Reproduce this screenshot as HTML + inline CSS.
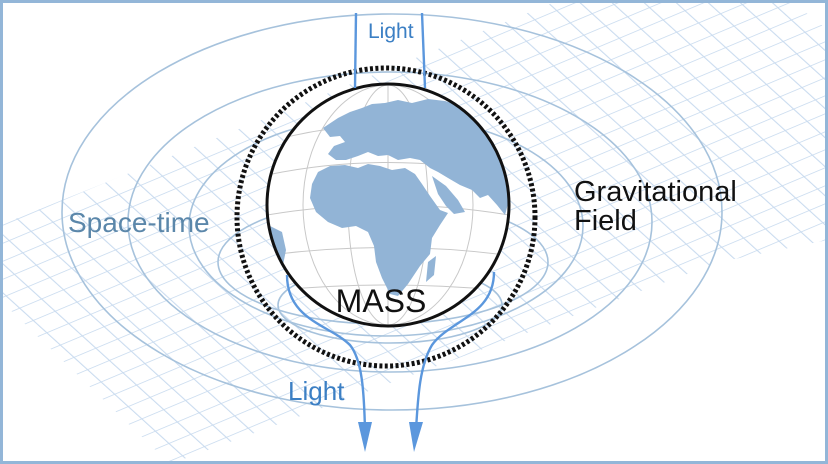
<!DOCTYPE html>
<html><head><style>
html,body{margin:0;padding:0;background:#fff;width:828px;height:464px;overflow:hidden}
svg{display:block;overflow:hidden}
text{font-family:"Liberation Sans",sans-serif}
</style></head><body>
<svg width="828" height="464" viewBox="0 0 828 464" xmlns="http://www.w3.org/2000/svg">
<defs>
<clipPath id="g"><polygon points="0,225 560,0 790,0 828,30 828,240 720,262 170,464 0,300"/></clipPath>
<clipPath id="gl"><circle cx="388" cy="205" r="121"/></clipPath>
<pattern id="grid" patternUnits="userSpaceOnUse" width="100" height="100" patternTransform="matrix(0.219 -0.092 0.1357 0.123 0 262)">
<path d="M0,0 H100 M0,0 V100" stroke="#c9dbef" stroke-width="10" fill="none"/>
</pattern>
</defs>
<rect width="828" height="464" fill="#fff"/>
<rect x="0" y="0" width="828" height="464" fill="url(#grid)" clip-path="url(#g)"/>
<g fill="none" stroke="#a6c2dc" stroke-width="1.6">
<ellipse cx="392" cy="212" rx="330" ry="198"/>
<ellipse cx="390" cy="222" rx="262" ry="150"/>
<ellipse cx="386" cy="226" rx="197" ry="110"/>
<ellipse cx="383" cy="262" rx="165" ry="62"/>
<ellipse cx="390" cy="305" rx="112" ry="38"/>
</g>
<circle cx="386" cy="217" r="149" fill="none" stroke="#111" stroke-width="5" stroke-dasharray="3 2.4"/>
<circle cx="388" cy="205" r="121" fill="#fff"/>
<g clip-path="url(#gl)">
<g fill="none" stroke="#c8c8c8" stroke-width="1">
<ellipse cx="388" cy="205" rx="40" ry="120"/><ellipse cx="388" cy="205" rx="85" ry="120"/>
<line x1="388" y1="85" x2="388" y2="325"/>
<path d="M267,175 Q388,150 509,175"/><path d="M267,215 Q388,195 509,215"/><path d="M270,255 Q388,240 506,255"/><path d="M280,290 Q388,280 496,290"/><path d="M275,140 Q388,110 500,140"/>
</g>
<path fill="#92b4d6" d="M323,128 L338,118 L350,112 L362,108 L372,104 L385,103 L398,100 L412,103 L428,99 L445,101 L462,106 L480,114 L496,126 L506,142 L509,170 L509,200 L505,215 L497,205 L488,195 L480,198 L472,190 L460,185 L448,178 L438,172 L430,168 L420,160 L410,158 L398,160 L388,155 L378,156 L368,152 L358,156 L346,160 L336,160 L328,154 L334,146 L345,142 L340,136 L330,137 Z"/>
<path fill="#92b4d6" d="M318,172 L330,166 L345,165 L358,168 L368,164 L380,166 L392,170 L405,168 L415,174 L422,184 L430,196 L440,210 L448,213 L440,225 L432,238 L430,254 L420,266 L408,284 L398,296 L390,294 L382,278 L376,262 L374,246 L368,232 L356,226 L342,228 L328,222 L316,212 L310,198 L312,184 Z"/>
<path fill="#92b4d6" d="M432,176 L446,186 L458,200 L465,212 L454,214 L446,206 L438,194 Z"/>
<path fill="#92b4d6" d="M268,225 L282,232 L286,250 L280,280 L270,288 Z"/>
<path fill="#92b4d6" d="M428,262 L436,256 L434,275 L426,282 Z"/>
</g>
<circle cx="388" cy="205" r="121" fill="none" stroke="#111" stroke-width="3"/>
<g fill="none" stroke="#5b97dd" stroke-width="2.4">
<path d="M356,13 L355,88"/><path d="M422,13 L425,88"/>
<path d="M287,275 C287,320 330,325 350,345 C362,360 364,390 365,430"/>
<path d="M494,272 C494,315 450,320 432,345 C420,365 418,395 416,430"/>
</g>
<polygon points="358,422 372,422 365,452" fill="#5b97dd"/>
<polygon points="409,422 423,422 414,452" fill="#5b97dd"/>
<text x="368" y="38" font-size="21" fill="#3b7fc4">Light</text>
<text x="288" y="400" font-size="26" fill="#3b7fc4">Light</text>
<text x="68" y="232" font-size="28" fill="#5b87aa">Space-time</text>
<text x="574" y="201" font-size="29" fill="#111">Gravitational</text>
<text x="574" y="230" font-size="29" fill="#111">Field</text>
<text x="381" y="312" font-size="32" fill="#111" text-anchor="middle">MASS</text>
<rect x="1.5" y="1.5" width="825" height="461" fill="none" stroke="#93b6d8" stroke-width="3"/>
</svg>
</body></html>
